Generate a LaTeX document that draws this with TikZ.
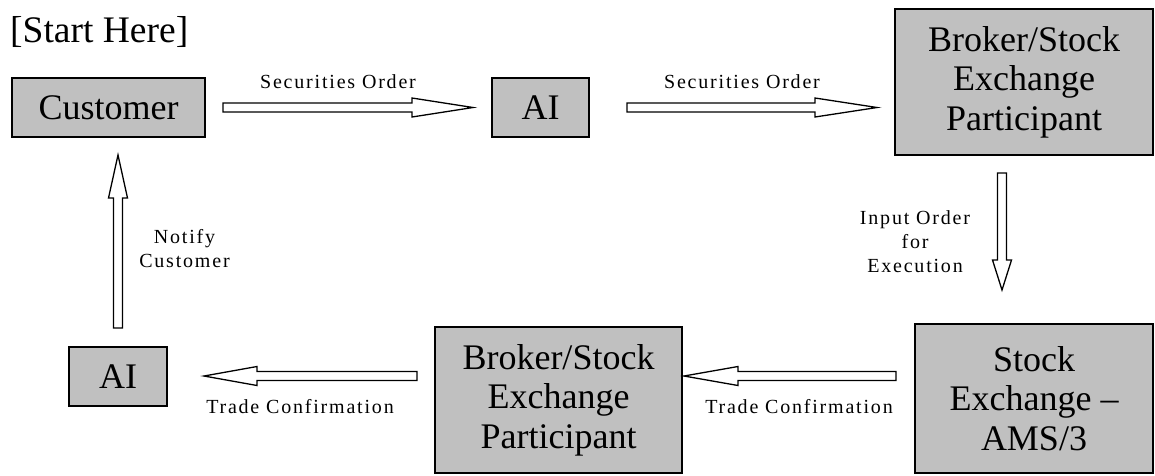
\documentclass[tikz,border=0pt]{standalone}
\usepackage{fontspec}
\setmainfont{Liberation Serif}
\newfontfamily\labfont[LetterSpace=9]{Liberation Serif}
\usetikzlibrary{calc}
\definecolor{boxgray}{RGB}{192,192,192}
\tikzset{
  hl/.store in=\ahl, hl=60,
  box/.style={draw=black, fill=boxgray, line width=1.6pt, inner sep=0pt, align=center,
    font=\fontsize{36}{39.5}\selectfont},
  lab/.style={inner sep=0pt, align=center, font=\labfont\fontsize{20}{24}\selectfont},
  blockarrow/.style={draw=black, fill=white, line width=1.3pt, line join=miter, to path={
    let \p1=(\tikztostart), \p2=(\tikztotarget),
        \n1={atan2(\y2-\y1,\x2-\x1)}, \n2={veclen(\x2-\x1,\y2-\y1)-\ahl}
    in ($(\p1)+(\n1+90:4.5pt)$) -- ($(\p1)+(\n1:\n2)+(\n1+90:4.5pt)$)
       -- ($(\p1)+(\n1:\n2)+(\n1+90:9.5pt)$) -- (\p2)
       -- ($(\p1)+(\n1:\n2)+(\n1-90:9.5pt)$) -- ($(\p1)+(\n1:\n2)+(\n1-90:4.5pt)$)
       -- ($(\p1)+(\n1-90:4.5pt)$) -- cycle}}
}
\begin{document}
\begin{tikzpicture}[x=1pt,y=-1pt]
\useasboundingbox (0,0) rectangle (1155,475);
% boxes
\node[anchor=base west, inner sep=0pt, font=\fontsize{37.5}{40}\selectfont] (start) at (10,42) {[Start Here]};
\node[box, minimum width=193pt, minimum height=59pt] (cust) at (108.5,107.5) {Customer};
\node[box, minimum width=97pt, minimum height=59pt] (ai1) at (540.5,107.5) {AI};
\node[box, minimum width=258pt, minimum height=146pt] (brk1) at (1024,82) {Broker/Stock\\Exchange\\Participant};
\node[box, minimum width=238pt, minimum height=149pt] (sx) at (1034,398.5) {Stock\\Exchange --\\AMS/3};
\node[box, minimum width=247pt, minimum height=146pt] (brk2) at (558.5,400) {Broker/Stock\\Exchange\\Participant};
\node[box, minimum width=98pt, minimum height=59pt] (ai2) at (118,376.5) {AI};
% arrow end points
\coordinate (a1s) at (223,107.5); \coordinate (a1e) at (473,107.5);
\coordinate (a2s) at (627,107.5); \coordinate (a2e) at (877,107.5);
\coordinate (a3s) at (1002,173);  \coordinate (a3e) at (1002,290);
\coordinate (a4s) at (896,376);   \coordinate (a4e) at (684,376);
\coordinate (a5s) at (417,376);   \coordinate (a5e) at (204,376);
\coordinate (a6s) at (118,328);   \coordinate (a6e) at (118,155);
\draw[blockarrow, hl=61] (a1s) to (a1e);
\draw[blockarrow, hl=62] (a2s) to (a2e);
\draw[blockarrow, hl=30] (a3s) to (a3e);
\draw[blockarrow, hl=54] (a4s) to (a4e);
\draw[blockarrow, hl=53] (a5s) to (a5e);
\draw[blockarrow, hl=43] (a6s) to (a6e);
% labels
\node[lab, anchor=base] (l1) at (338,88) {Securities Order};
\node[lab, anchor=base] (l2) at (742,88) {Securities Order};
\node[lab, anchor=base] (l3) at (915,272) {Input Order\\for\\Execution};
\node[lab, anchor=base] (l4) at (184.5,267) {Notify\\Customer};
\node[lab, anchor=base] (l5) at (300,413) {Trade Confirmation};
\node[lab, anchor=base] (l6) at (799,413) {Trade Confirmation};
\end{tikzpicture}
\end{document}
